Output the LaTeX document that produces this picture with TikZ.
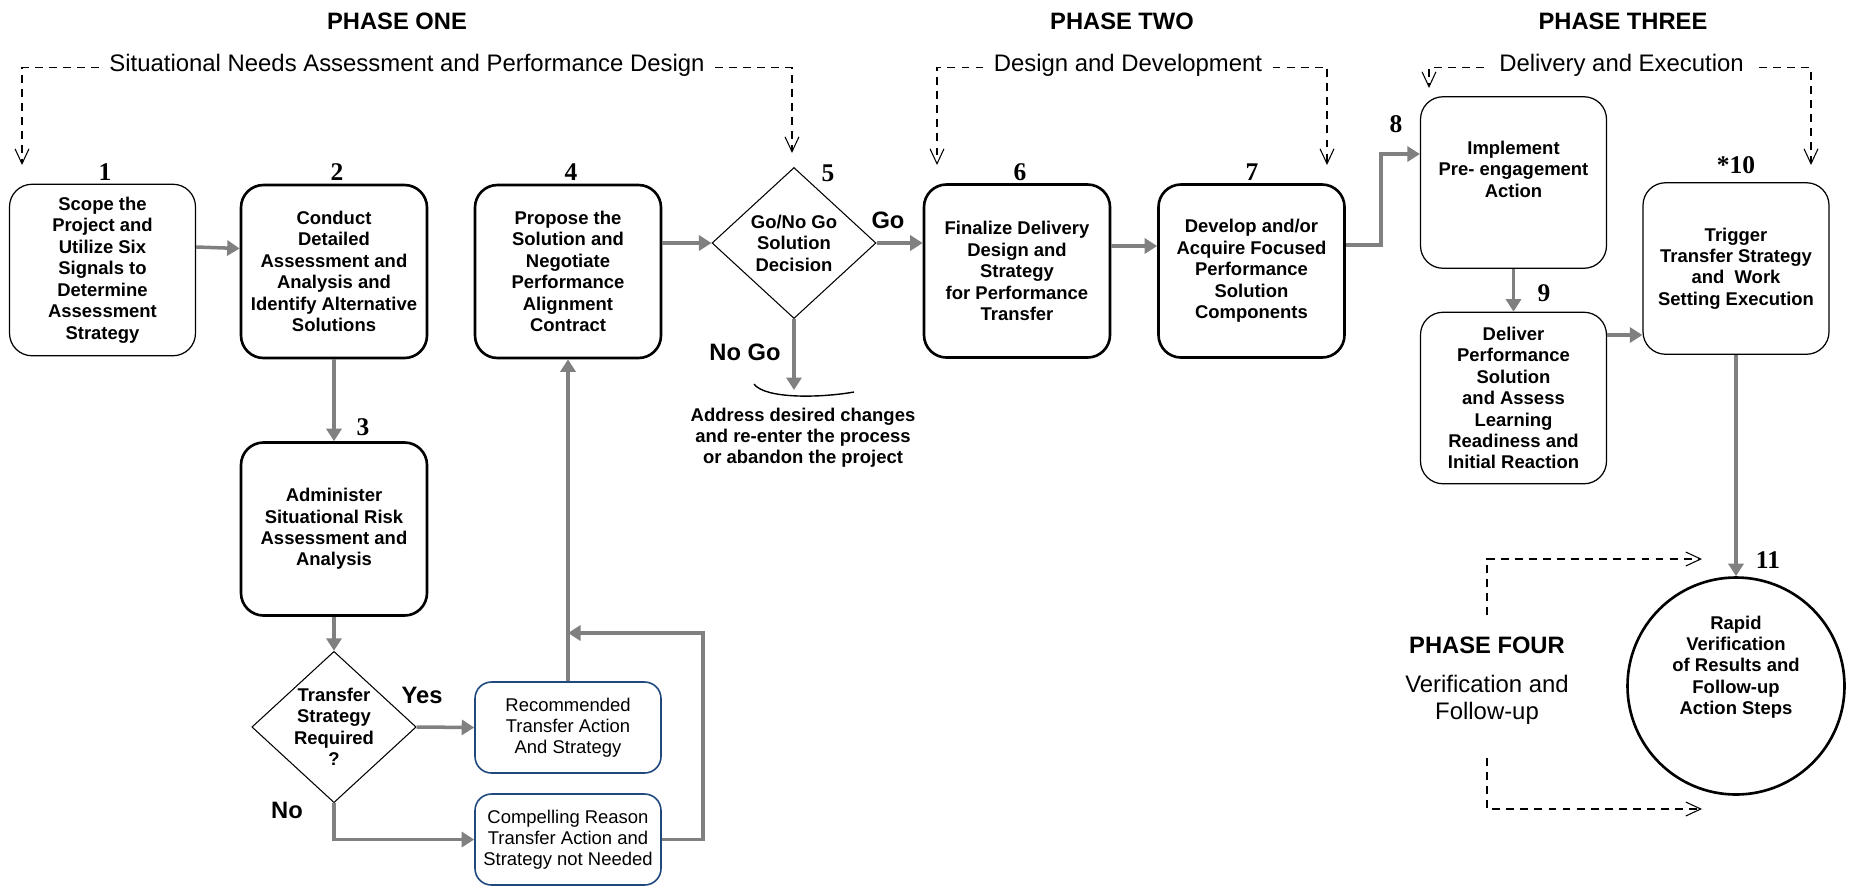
\documentclass[tikz,border=0pt]{standalone}
\usepackage{fontspec}
\setmainfont{Liberation Sans}
\newfontfamily\numfont{Liberation Serif}
\usepackage{xcolor}
\usetikzlibrary{arrows.meta}
\usetikzlibrary{shapes.geometric}
\usetikzlibrary{positioning}
\definecolor{arrowgrey}{RGB}{128,128,128}
\definecolor{boxblue}{RGB}{31,73,125}
\tikzset{>={Triangle[length=2.5mm,width=3mm]}}
\tikzset{
  stepbox/.style={rectangle,draw,rounded corners=0.45cm,line width=1.5pt,minimum width=3.72cm,minimum height=3.46cm,inner sep=2pt,align=center,font=\fontsize{10.5}{12.2}\selectfont\bfseries},
  thinbox/.style={stepbox,line width=0.7pt,minimum height=3.43cm},
  decision/.style={diamond,draw,line width=0.6pt,aspect=1.086,minimum width=3.28cm,minimum height=3.02cm,inner sep=0pt,align=center,font=\fontsize{10.5}{12.2}\selectfont\bfseries},
  optbox/.style={rectangle,draw=boxblue,rounded corners=0.33cm,line width=0.9pt,minimum width=3.72cm,minimum height=1.82cm,inner sep=2pt,align=center,font=\fontsize{10.5}{12.1}\selectfont},
  stepnum/.style={font=\numfont\fontsize{14.5}{14.5}\selectfont\bfseries},
  phasetitle/.style={font=\fontsize{13.5}{16}\selectfont\bfseries},
  phasesub/.style={font=\fontsize{13.6}{15.4}\selectfont,inner sep=0.2cm},
  branchtag/.style={font=\fontsize{13.5}{16}\selectfont\bfseries},
  gline/.style={draw=arrowgrey,line width=2pt,->},
  phaseline/.style={line width=0.6pt,dash pattern=on 4.5pt off 3.5pt,-{Straight Barb[length=3mm,width=2.8mm]}}
}
\begin{document}
\begin{tikzpicture}
    \useasboundingbox (0,0) rectangle (37,-17.74);
    \node at (7.94, -0.42) [phasetitle] (ph1) {PHASE ONE};
    \node at (22.44, -0.42) [phasetitle] (ph2) {PHASE TWO};
    \node at (32.46, -0.42) [phasetitle] (ph3) {PHASE THREE};
    \node at (8.14, -1.42) [phasesub,anchor=base] (sub1) {Situational Needs Assessment and Performance Design};
    \node at (22.56, -1.42) [phasesub,anchor=base] (sub2) {Design and Development};
    \node at (32.43, -1.42) [phasesub,anchor=base,inner sep=0.3cm] (sub3) {Delivery and Execution};
    \coordinate (sub1l) at (0.44, -3.3);
    \coordinate (sub1r) at (15.84, -3.06);
    \coordinate (sub2l) at (18.74, -3.3);
    \coordinate (sub2r) at (26.54, -3.3);
    \coordinate (sub3l) at (28.58, -1.76);
    \coordinate (sub3r) at (36.22, -3.3);
    \draw [phaseline] ([yshift=2pt]sub1.base west) -| (sub1l);
    \draw [phaseline] ([yshift=2pt]sub1.base east) -| (sub1r);
    \draw [phaseline] ([yshift=2pt]sub2.base west) -| (sub2l);
    \draw [phaseline] ([yshift=2pt]sub2.base east) -| (sub2r);
    \draw [phaseline] ([yshift=2pt]sub3.base west) -| (sub3l);
    \draw [phaseline] ([yshift=2pt]sub3.base east) -| (sub3r);

    \node at (2.05, -5.40) [thinbox] (scope) {Scope the\\Project and\\Utilize Six\\Signals to\\Determine\\Assessment\\Strategy};
    \node at (6.68, -5.43) [stepbox] (conduct) {Conduct\\Detailed\\Assessment and\\Analysis and\\Identify Alternative\\Solutions};
    \node at (6.68, -10.58) [stepbox] (admin) {Administer\\Situational Risk\\Assessment and\\Analysis};
    \node at (11.36, -5.43) [stepbox] (propose) {Propose the\\Solution and\\Negotiate\\Performance\\Alignment\\Contract};
    \node at (15.88, -4.86) [decision] (gonogo) {Go/No Go\\Solution\\Decision};
    \node at (20.34, -5.42) [stepbox] (finalize) {Finalize Delivery\\Design and\\Strategy\\for Performance\\Transfer};
    \node at (25.03, -5.42) [stepbox] (develop) {Develop and/or\\Acquire Focused\\Performance\\Solution\\Components};
    \node at (30.27, -3.65) [thinbox] (implement) {Implement\\Pre- engagement\\Action\\[0.1cm]\mbox{}};
    \node at (30.27, -7.96) [thinbox] (deliver) {Deliver\\Performance\\Solution\\and Assess\\Learning\\Readiness and\\Initial Reaction};
    \node at (34.72, -5.37) [thinbox] (trigger) {Trigger\\Transfer Strategy\\and~~Work\\Setting Execution};
    \node at (34.72, -13.72) [circle,draw,line width=1.5pt,minimum size=4.34cm,inner sep=0pt,align=center,font=\fontsize{10.5}{12.2}\selectfont\bfseries] (verify) {Rapid\\Verification\\of Results and\\Follow-up\\Action Steps\\[0.4cm]\mbox{}};
    \node at (6.68, -14.54) [decision] (transreq) {Transfer\\Strategy\\Required\\?};
    \node at (11.36, -14.55) [optbox] (recom) {Recommended\\Transfer Action\\And Strategy};
    \node at (11.36, -16.79) [optbox] (compel) {Compelling Reason\\Transfer Action and\\Strategy not Needed};

    \node at (2.10, -3.44) [stepnum] (n1) {1};
    \node at (6.74, -3.44) [stepnum] (n2) {2};
    \node at (7.26, -8.54) [stepnum] (n3) {3};
    \node at (11.42, -3.44) [stepnum] (n4) {4};
    \node at (16.56, -3.46) [stepnum] (n5) {5};
    \node at (20.40, -3.44) [stepnum] (n6) {6};
    \node at (25.04, -3.44) [stepnum] (n7) {7};
    \node at (27.92, -2.48) [stepnum] (n8) {8};
    \node at (30.88, -5.86) [stepnum] (n9) {9};
    \node at (34.72, -3.30) [stepnum] (n10) {*10};
    \node at (35.36, -11.20) [stepnum] (n11) {11};

    \node at (17.76, -4.40) [branchtag] (go) {Go};
    \node at (14.90, -7.04) [branchtag] (nogo) {No Go};
    \node at (8.44, -13.90) [branchtag] (yes) {Yes};
    \node at (5.74, -16.20) [branchtag] (no) {No};
    \node at (16.06, -8.76) [align=center,font=\fontsize{10.5}{11.9}\selectfont\bfseries] (readdress) {Address desired changes\\and re-enter the process\\or abandon the project};
    \coordinate (nogoend) at (15.88, -7.80);
    \coordinate (loopin) at (11.36, -12.66);

    \draw [gline] ([yshift=0.46cm]scope.east) to ([yshift=0.46cm]conduct.west);
    \draw [gline] (propose.east |- gonogo.west) to (gonogo.west);
    \draw [gline] (gonogo.east) to (gonogo.east -| finalize.west);
    \draw [gline] ([yshift=0.5cm]finalize.east) to ([yshift=0.5cm]develop.west);
    \draw [gline] ([yshift=0.52cm]develop.east) -- ++(0.7,0) |- ([yshift=0.57cm]implement.west);
    \draw [gline] (implement.south) to (deliver.north);
    \draw [gline] ([yshift=1.26cm]deliver.east) to ([yshift=1.26cm]deliver.east -| trigger.west);
    \draw [gline] (trigger.south) to (verify.north);
    \draw [gline] (conduct.south) to (admin.north);
    \draw [gline] (admin.south) to (transreq.north);
    \draw [gline] (transreq.east) to (recom.west);
    \draw [gline] (transreq.south) |- (compel.west);
    \draw [gline] (recom.north) to (propose.south);
    \draw [gline] (compel.east) -- ++(0.82,0) |- (loopin);
    \draw [gline] (gonogo.south) to (nogoend);
    \draw [line width=0.8pt] (15.08, -7.68) .. controls (15.3, -7.98) and (16.4, -7.96) .. (17.08, -7.84);

    \node at (29.74, -12.90) [phasetitle] (ph4) {PHASE FOUR};
    \node at (29.74, -14.00) [phasesub,align=center] (sub4) {Verification and\\Follow-up};
    \coordinate (ph4top) at (34.04, -11.18);
    \coordinate (ph4bot) at (34.04, -16.18);
    \draw [phaseline] ([yshift=0.3cm]ph4.north) |- (ph4top);
    \draw [phaseline] ([yshift=-0.46cm]sub4.south) |- (ph4bot);
\end{tikzpicture}
\end{document}
